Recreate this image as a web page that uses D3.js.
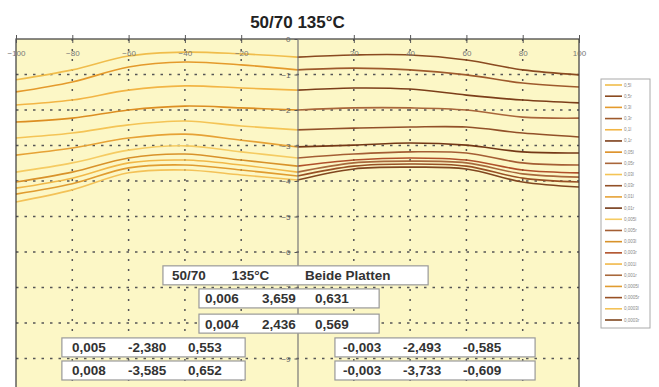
<!DOCTYPE html>
<html>
<head>
<meta charset="utf-8">
<script src="https://cdn.jsdelivr.net/npm/d3@7"></script>
<style>
  body { margin: 0; background: #fff; }
  svg { display: block; font-family: "Liberation Sans", Arial, sans-serif; }
</style>
</head>
<body>
<svg></svg>
<script>
(function () {
    const width = 659;
    const height = 387;

    // x positions (mm) of the left and right half of every profile
    const leftX = [-100, -80, -60, -40, -20, 0];
    const rightX = [0, 20, 40, 60, 80, 100];

    const leftSeries = [
        [-1.15, -0.87, -0.48, -0.37, -0.42, -0.51],
        [-1.49, -1.21, -0.79, -0.65, -0.73, -0.87],
        [-1.86, -1.72, -1.44, -1.32, -1.38, -1.44],
        [-2.34, -2.23, -2.00, -1.89, -1.94, -2.00],
        [-2.79, -2.65, -2.42, -2.31, -2.45, -2.56],
        [-3.27, -3.07, -2.79, -2.68, -2.85, -3.04],
        [-3.75, -3.49, -3.13, -3.01, -3.18, -3.35],
        [-4.03, -3.75, -3.35, -3.24, -3.41, -3.58],
        [-4.20, -3.92, -3.49, -3.41, -3.55, -3.75],
        [-4.37, -4.08, -3.63, -3.55, -3.69, -3.86],
        [-4.59, -4.25, -3.77, -3.69, -3.83, -3.97]
    ];

    const rightSeries = [
        [-0.51, -0.45, -0.45, -0.59, -0.87, -1.01],
        [-0.87, -0.82, -0.87, -1.01, -1.24, -1.35],
        [-1.44, -1.38, -1.41, -1.58, -1.72, -1.80],
        [-2.00, -1.94, -1.94, -2.00, -2.20, -2.23],
        [-2.56, -2.51, -2.48, -2.48, -2.65, -2.76],
        [-3.04, -2.99, -2.93, -2.99, -3.18, -3.21],
        [-3.35, -3.24, -3.18, -3.21, -3.49, -3.55],
        [-3.58, -3.41, -3.35, -3.41, -3.69, -3.77],
        [-3.75, -3.49, -3.44, -3.49, -3.80, -3.89],
        [-3.86, -3.58, -3.52, -3.58, -3.92, -4.03],
        [-3.97, -3.66, -3.61, -3.66, -4.03, -4.17]
    ];

    const legendLabels = [
        "0,5l", "0,5r", "0,3l", "0,3r", "0,1l", "0,1r", "0,05l", "0,05r",
        "0,03l", "0,03r", "0,01l", "0,01r", "0,005l", "0,005r", "0,003l", "0,003r",
        "0,001l", "0,001r", "0,0005l", "0,0005r", "0,0003l", "0,0003r"
    ];

    const xTicks = [-100, -80, -60, -40, -20, 0, 20, 40, 60, 80, 100];
    const yTicks = [0, -1, -2, -3, -4, -5, -6, -7, -8, -9];

    const headerRow = ["50/70", "135°C", "Beide Platten"];
    const fitRows = [
        ["0,006", "3,659", "0,631"],
        ["0,004", "2,436", "0,569"],
        ["0,005", "-2,380", "0,553"],
        ["0,008", "-3,585", "0,652"],
        ["-0,003", "-2,493", "-0,585"],
        ["-0,003", "-3,733", "-0,609"]
    ];

    const goldColors = ["#f0bd4c", "#e49a2c", "#f2b545", "#dc8e22", "#f4c456", "#e6a236",
        "#f5cb62", "#d8922a", "#f1b848", "#e09c30", "#f3c258"];
    const brownColors = ["#8a4a20", "#9e5a2c", "#7c3e19", "#a9663a", "#925028", "#743816",
        "#a45e34", "#b0502a", "#a8683c", "#985024", "#80461f"];

    const plot = { left: 16, right: 579, top: 39, bottom: 394 };

    const svg = d3.select("svg")
        .attr("width", width)
        .attr("height", height);

    const x = d3.scaleLinear().domain([-100, 100]).range([plot.left, plot.right]);
    const y = d3.scaleLinear().domain([0, -10]).range([plot.top, plot.bottom]);

    svg.append("rect")
        .attr("x", plot.left)
        .attr("y", plot.top)
        .attr("width", plot.right - plot.left)
        .attr("height", plot.bottom - plot.top)
        .attr("fill", "#fcf7c6");

    // dotted grid
    svg.append("g")
        .selectAll("line")
        .data(yTicks.filter(d => d !== 0))
        .enter()
        .append("line")
        .attr("x1", plot.left)
        .attr("x2", plot.right)
        .attr("y1", d => y(d))
        .attr("y2", d => y(d))
        .attr("stroke", "#555")
        .attr("stroke-width", 1.5)
        .attr("stroke-dasharray", "2.5,6");

    svg.append("g")
        .selectAll("line")
        .data(xTicks.filter(d => d !== 0 && Math.abs(d) !== 100))
        .enter()
        .append("line")
        .attr("x1", d => x(d))
        .attr("x2", d => x(d))
        .attr("y1", plot.top)
        .attr("y2", plot.bottom)
        .attr("stroke", "#555")
        .attr("stroke-width", 1.5)
        .attr("stroke-dasharray", "2,8");

    // profiles
    const line = d3.line()
        .x(d => x(d[0]))
        .y(d => y(d[1]))
        .curve(d3.curveCatmullRom);

    const curves = svg.append("g").attr("fill", "none").attr("stroke-width", 1.6);

    curves.selectAll(".left")
        .data(leftSeries)
        .enter()
        .append("path")
        .attr("class", "left")
        .attr("stroke", (d, i) => goldColors[i])
        .attr("d", d => line(d.map((v, i) => [leftX[i], v])));

    curves.selectAll(".right")
        .data(rightSeries)
        .enter()
        .append("path")
        .attr("class", "right")
        .attr("stroke", (d, i) => brownColors[i])
        .attr("d", d => line(d.map((v, i) => [rightX[i], v])));

    // frame
    svg.append("rect")
        .attr("x", plot.left)
        .attr("y", plot.top)
        .attr("width", plot.right - plot.left)
        .attr("height", plot.bottom - plot.top)
        .attr("fill", "none")
        .attr("stroke", "#3a3a3a")
        .attr("stroke-width", 1.2);

    // x axis on the top edge, labels inside
    const xAxis = svg.append("g")
        .attr("transform", `translate(0, ${plot.top})`)
        .call(d3.axisBottom(x).tickValues(xTicks).tickSize(-4).tickPadding(11).tickFormat(d3.format("d")));
    xAxis.select(".domain").remove();
    xAxis.selectAll("line").attr("stroke", "#555").attr("y1", 4);
    xAxis.selectAll("text").attr("fill", "#777").attr("font-size", 8)
        .text(d => d3.format("d")(d).replace("-", "-"));
    xAxis.selectAll(".tick").filter(d => d === 0).remove();

    // y axis through x = 0
    const yAxis = svg.append("g")
        .attr("transform", `translate(${x(0)}, 0)`)
        .call(d3.axisLeft(y).tickValues(yTicks).tickSizeInner(3).tickSizeOuter(0).tickPadding(4));
    yAxis.select(".domain").attr("stroke", "#777").attr("stroke-width", 1.2);
    yAxis.selectAll("line").attr("stroke", "#555");
    yAxis.selectAll("text").attr("fill", "#666").attr("font-size", 8);

    // title
    svg.append("text")
        .attr("x", x(0))
        .attr("y", 28)
        .attr("text-anchor", "middle")
        .attr("font-size", 17)
        .attr("font-weight", "bold")
        .attr("fill", "#222")
        .text("50/70 135°C");

    // result boxes, placed in data units
    const boxLayout = [
        { row: headerRow, x0: -47.8, x1: 46.4, y0: -6.39, cols: [-44.6, -23.4, 2.7] },
        { row: fitRows[0], x0: -35, x1: 29, y0: -7.04, cols: [-32.9, -12.6, 6.2] },
        { row: fitRows[1], x0: -35, x1: 29, y0: -7.75, cols: [-32.9, -12.6, 6.2] },
        { row: fitRows[2], x0: -83.7, x1: -18.6, y0: -8.42, cols: [-80.1, -60.2, -38.9] },
        { row: fitRows[3], x0: -83.7, x1: -18.6, y0: -9.07, cols: [-80.1, -60.2, -38.9] },
        { row: fitRows[4], x0: 13.3, x1: 84.4, y0: -8.42, cols: [16.2, 37.5, 58.8] },
        { row: fitRows[5], x0: 13.3, x1: 84.4, y0: -9.07, cols: [16.2, 37.5, 58.8] }
    ];
    const boxH = 19;

    const boxes = svg.append("g")
        .selectAll("g")
        .data(boxLayout)
        .enter()
        .append("g");

    boxes.append("rect")
        .attr("x", d => x(d.x0))
        .attr("y", d => y(d.y0))
        .attr("width", d => x(d.x1) - x(d.x0))
        .attr("height", boxH)
        .attr("fill", "#fff")
        .attr("stroke", "#999")
        .attr("stroke-width", 1.2);

    boxes.selectAll("text")
        .data(d => d.row.map((t, i) => ({ t: t, cx: d.cols[i], y0: d.y0 })))
        .enter()
        .append("text")
        .attr("x", d => x(d.cx))
        .attr("y", d => y(d.y0) + 14.5)
        .attr("font-size", 13.5)
        .attr("font-weight", "bold")
        .attr("fill", "#333")
        .text(d => d.t);

    // legend
    const legend = svg.append("g");
    legend.append("rect")
        .attr("x", 601)
        .attr("y", 79)
        .attr("width", 49)
        .attr("height", 249)
        .attr("fill", "#fff")
        .attr("stroke", "#aaa");

    const ly = d3.scaleLinear().domain([0, legendLabels.length - 1]).range([85, 320]);
    const entry = legend.selectAll(".entry")
        .data(legendLabels)
        .enter()
        .append("g")
        .attr("class", "entry")
        .attr("transform", (d, i) => `translate(0, ${ly(i)})`);

    entry.append("line")
        .attr("x1", 605)
        .attr("x2", 622)
        .attr("stroke", (d, i) => i % 2 === 0 ? goldColors[i / 2] : brownColors[(i - 1) / 2])
        .attr("stroke-width", 1.6);

    entry.append("text")
        .attr("x", 624)
        .attr("y", 1.5)
        .attr("font-size", 4.5)
        .attr("fill", "#888")
        .text(d => d);
})();
</script>
</body>
</html>
